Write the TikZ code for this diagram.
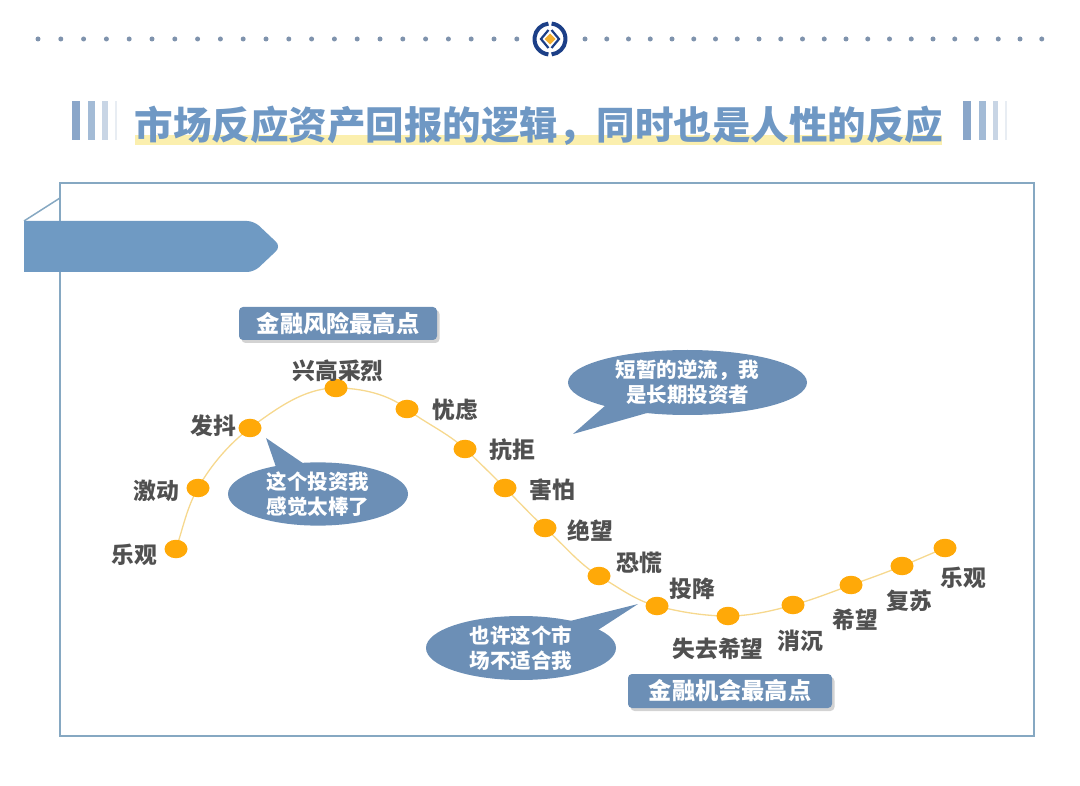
\documentclass[tikz,border=0pt]{standalone}
\usepackage{fontspec}
\setmainfont{Noto Sans CJK SC}
\usetikzlibrary{shapes.geometric,shadows}
\definecolor{framec}{HTML}{86A8C2}
\definecolor{banner}{HTML}{6F9AC3}
\definecolor{calloutc}{HTML}{6C8FB6}
\definecolor{titlec}{HTML}{6F98C4}
\definecolor{hl}{HTML}{FBEFAE}
\definecolor{labelc}{HTML}{505050}
\definecolor{dotc}{HTML}{FFA908}
\definecolor{curvec}{HTML}{F6D88E}
\definecolor{topdot}{HTML}{7F93AD}
\definecolor{logob}{HTML}{1C3F87}
\definecolor{logoo}{HTML}{F2AE2E}
\definecolor{barA}{HTML}{8AA6C9}
\definecolor{barB}{HTML}{A3BBD6}
\definecolor{barC}{HTML}{C8D5E5}
\definecolor{barD}{HTML}{E8EDF3}
\tikzset{
  stagedot/.style={ellipse,fill=dotc,inner sep=0pt,minimum width=23pt,minimum height=18.5pt},
  stagelabel/.style={inner sep=0pt,text=labelc,font=\fontsize{22.8}{24}\selectfont\bfseries},
  callout/.style={ellipse,fill=calloutc,inner sep=0pt,text=white,align=center,font=\fontsize{20.5}{25}\selectfont\bfseries},
  peakbox/.style={rounded corners=4pt,fill=calloutc,inner sep=0pt,text=white,font=\fontsize{23.2}{25}\selectfont\bfseries,
    drop shadow={shadow xshift=2.5pt,shadow yshift=-3pt,opacity=.35}},
  topdots/.style={circle,fill=topdot,inner sep=0pt,minimum size=5pt},
}
\begin{document}
\begin{tikzpicture}[x=1pt,y=-1pt]
\useasboundingbox (0,0) rectangle (1080,786);
% top dotted rule
\foreach \i in {0,...,21} {
  \node[topdots] (la\i) at ({38+\i*22.8},39) {};
  \node[topdots] (ra\i) at ({585+\i*21.75},39) {};
}
% logo
\draw[logob,line width=4pt] (550,39) ++(96:15.5) arc[start angle=96,end angle=264,radius=15.5];
\draw[logob,line width=4pt] (550,39) ++(-84:15.5) arc[start angle=-84,end angle=84,radius=15.5];
\draw[logob,line width=2.2pt] (548.5,30) -- (541,39) -- (548.5,48);
\draw[logob,line width=2.2pt] (551.5,30) -- (559,39) -- (551.5,48);
\fill[logoo] (550,33.5) -- (555.5,39) -- (550,44.5) -- (544.5,39) -- cycle;
% title
\fill[hl] (135,135.5) rectangle (942,145.5);
\node[inner sep=0pt,text=titlec,font=\fontsize{38.5}{42}\selectfont\bfseries] (title) at (539,125.5) {市场反应资产回报的逻辑，同时也是人性的反应};
\fill[barA] (72,101) rectangle (80,140);
\fill[barB] (88,101) rectangle (95,140);
\fill[barC] (102,101) rectangle (108,140);
\fill[barD] (115,101) rectangle (117,140);
\fill[barA] (963,101) rectangle (971,140);
\fill[barB] (979,101) rectangle (986,140);
\fill[barC] (993,101) rectangle (998,140);
\fill[barD] (1005,101) rectangle (1007,140);
% frame and banner
\draw[framec,line width=2pt] (60,183) rectangle (1034,736);
\draw[framec,line width=1.5pt] (24,221) -- (60,198);
\fill[banner] (24,221) [rounded corners=7pt] -- (254,221) -- (281,246.5) -- (254,272) [sharp corners] -- (24,272) -- cycle;
% stage dots
\foreach \n/\x/\y in {a/176/549,b/198/488,c/250/428,d/336/388,e/407/409,f/465/449,g/505/488,h/545/528,i/599/576,j/657/606,k/728/616,l/793/605,m/851/585,n/902/566,o/945/548}
  \coordinate (c\n) at (\x,\y);
\draw[curvec,line width=1.3pt] (ca)
  .. controls +(7,-21) and +(-11,19) .. (cb)
  .. controls +(13,-23) and +(-21,16) .. (cc)
  .. controls +(26,-19) and +(-32,0) .. (cd)
  .. controls +(25,0) and +(-19,-15) .. (ce)
  .. controls +(18,14) and +(-17,-16) .. (cf)
  .. controls +(14,13) and +(-13,-13) .. (cg)
  .. controls +(13,13) and +(-14,-13) .. (ch)
  .. controls +(18,16) and +(-20,-12) .. (ci)
  .. controls +(19,11) and +(-21,-5) .. (cj)
  .. controls +(23,6) and +(-24,0) .. (ck)
  .. controls +(22,0) and +(-21,6) .. (cl)
  .. controls +(19,-5) and +(-19,7) .. (cm)
  .. controls +(17,-6) and +(-17,7) .. (cn)
  .. controls +(15,-6) and +(-15,6) .. (co);
\foreach \n in {a,b,c,d,e,f,g,h,i,j,k,l,m,n,o}
  \node[stagedot] (d\n) at (c\n) {};
% labels
\node[stagelabel] (la) at (134,555) {乐观};
\node[stagelabel] (lb) at (156,491) {激动};
\node[stagelabel] (lc) at (213,426) {发抖};
\node[stagelabel] (ld) at (338,371) {兴高采烈};
\node[stagelabel] (le) at (455,410) {忧虑};
\node[stagelabel] (lf) at (512,450) {抗拒};
\node[stagelabel] (lg) at (552,490) {害怕};
\node[stagelabel] (lh) at (590,531) {绝望};
\node[stagelabel] (li) at (639,563) {恐慌};
\node[stagelabel] (lj) at (692,589) {投降};
\node[stagelabel] (lk) at (718,649) {失去希望};
\node[stagelabel] (ll) at (800,641) {消沉};
\node[stagelabel] (lm) at (855,620) {希望};
\node[stagelabel] (ln) at (909,601) {复苏};
\node[stagelabel] (lo) at (963,578) {乐观};
% peak boxes
\node[peakbox,minimum width=198pt,minimum height=33pt] (risk) at (338,323.5) {金融风险最高点};
\node[peakbox,minimum width=204pt,minimum height=34pt] (opp) at (730,691) {金融机会最高点};
% callouts
\fill[calloutc] (266,438) -- (277,470) -- (310,468) -- cycle;
\node[callout,minimum width=180pt,minimum height=56pt] (c1) at (318,494) {这个投资我\\感觉太棒了};
\fill[calloutc] (573,434) -- (606,405) -- (647,413) -- cycle;
\node[callout,minimum width=239pt,minimum height=65pt] (c2) at (687.5,382.5) {短暂的逆流，我\\是长期投资者};
\fill[calloutc] (638,604) -- (570,621) -- (598,630) -- cycle;
\node[callout,minimum width=190pt,minimum height=64pt] (c3) at (521,648) {也许这个市\\场不适合我};
\end{tikzpicture}
\end{document}
